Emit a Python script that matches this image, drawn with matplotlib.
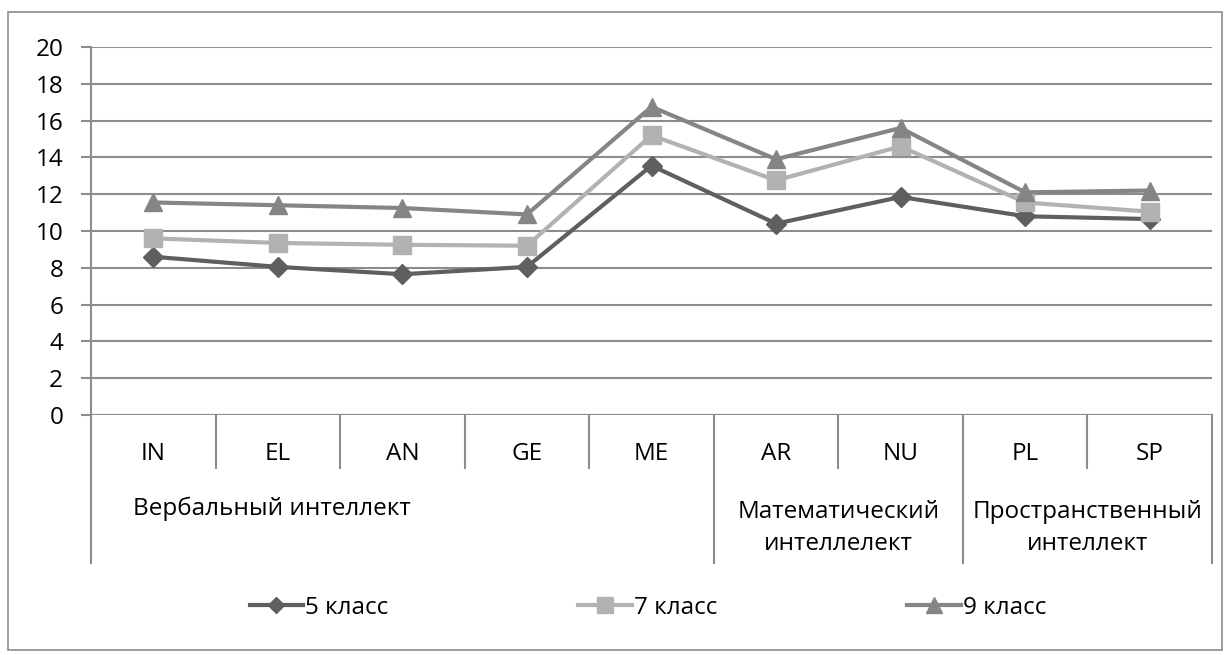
import matplotlib
matplotlib.use('Agg')
import matplotlib.pyplot as plt
from matplotlib.patches import Rectangle
import numpy as np

plt.rcParams['font.family'] = ['Open Sans', 'DejaVu Sans']

# Данные
categories = ['IN', 'EL', 'AN', 'GE', 'ME', 'AR', 'NU', 'PL', 'SP']
groups = ['Вербальный интеллект', 'Математический\nинтеллелект', 'Пространственный\nинтеллект']
group_sizes = [5, 2, 2]
series_names = ['5 класс', '7 класс', '9 класс']
grade5 = [8.6, 8.05, 7.65, 8.05, 13.55, 10.4, 11.85, 10.8, 10.65]
grade7 = [9.6, 9.35, 9.25, 9.2, 15.2, 12.75, 14.6, 11.55, 11.05]
grade9 = [11.55, 11.4, 11.25, 10.9, 16.75, 13.9, 15.6, 12.1, 12.2]
yticks = [0, 2, 4, 6, 8, 10, 12, 14, 16, 18, 20]

colors = ['#5f5f5f', '#b2b2b2', '#858585']
markers = ['D', 's', '^']
msizes = [10, 13, 13]
grid_color = '#8c8c8c'
fs = 17.5

fig = plt.figure(figsize=(12.25, 6.55), dpi=100)
ax = fig.add_axes([91 / 1225, 1 - 415 / 655, (1212 - 91) / 1225, (415 - 47) / 655])

x = np.arange(len(categories))
for vals, name, c, m, ms in zip([grade5, grade7, grade9], series_names, colors, markers, msizes):
    ax.plot(x, vals, color=c, linewidth=3, marker=m, markersize=ms, label=name, zorder=3)

ax.set_xlim(-0.5, len(categories) - 0.5)
ax.set_ylim(0, 20)
ax.set_yticks(yticks)
ax.yaxis.grid(True, color=grid_color, linewidth=1.5)
ax.set_axisbelow(True)
for s in ['top', 'right', 'bottom']:
    ax.spines[s].set_visible(False)
ax.spines['left'].set_color(grid_color)
ax.spines['left'].set_linewidth(1.5)
ax.tick_params(axis='y', length=7, width=1.5, color=grid_color, pad=13, labelsize=fs)
ax.set_xticks([])
ax.axhline(0, color=grid_color, linewidth=1.5, zorder=2)

# Многоуровневая ось категорий
trans = ax.get_xaxis_transform()
px = 1 / 368.0
for i, lab in enumerate(categories):
    ax.text(i, -(454 - 415) * px, lab, transform=trans, ha='center', va='center', fontsize=fs)

bounds = np.concatenate([[0], np.cumsum(group_sizes)]) - 0.5
for i in range(1, len(categories)):
    b = i - 0.5
    depth = 563 if b in bounds else 468
    ax.plot([b, b], [0, -(depth - 415) * px], transform=trans, color=grid_color,
            linewidth=1.5, clip_on=False)
for b in [bounds[0], bounds[-1]]:
    ax.plot([b, b], [0, -(563 - 415) * px], transform=trans, color=grid_color,
            linewidth=1.5, clip_on=False)

for g, lab in enumerate(groups):
    if '\n' in lab:
        xc = (bounds[g] + bounds[g + 1]) / 2
        ax.text(xc, -(528 - 415) * px, lab, transform=trans, ha='center', va='center',
                fontsize=fs, linespacing=1.45)
    else:
        ax.text(bounds[g] + 1.45, -(509 - 415) * px, lab, transform=trans, ha='center',
                va='center', fontsize=fs)

fig.legend(loc='center', bbox_to_anchor=(648 / 1225, 1 - 608 / 655), ncol=3, frameon=False,
           fontsize=fs, handlelength=2.2, handletextpad=0.1, columnspacing=7.8,
           markerscale=0.85)

fig.patches.append(Rectangle((8 / 1225, 5 / 655), 1214 / 1225, 638 / 655, transform=fig.transFigure,
                             fill=False, edgecolor='#8c8c8c', linewidth=1.2))

fig.savefig('out.png', dpi=100)
